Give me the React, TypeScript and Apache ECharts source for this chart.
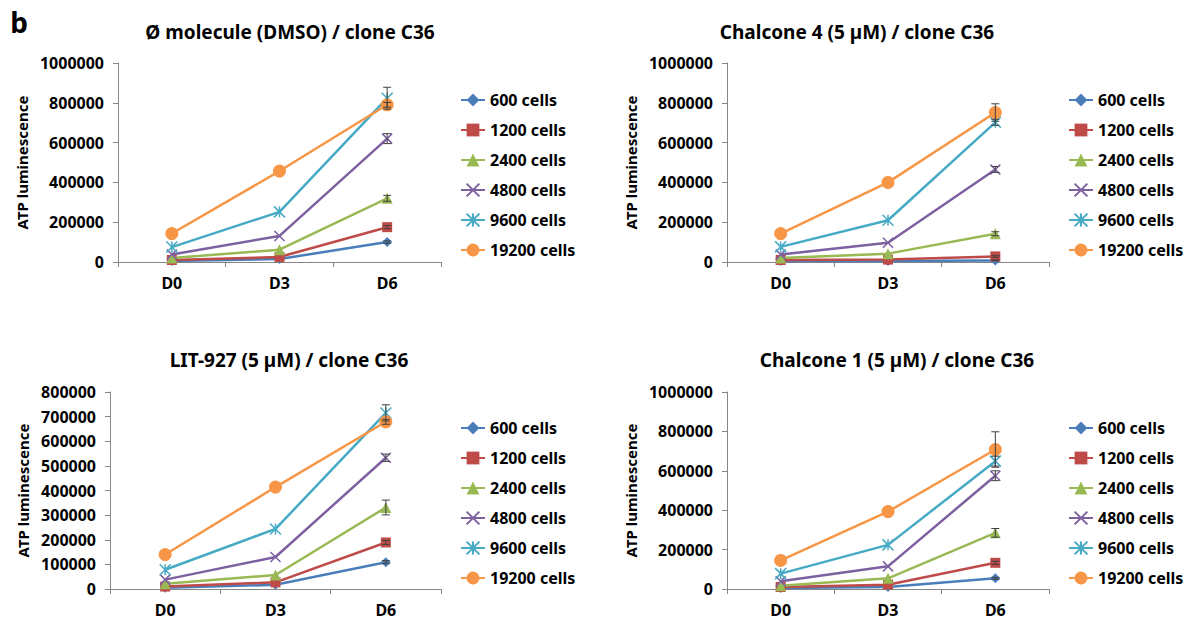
import { useEffect, useRef } from "react";
import * as echarts from "echarts";

const days = ["D0", "D3", "D6"];
const seriesNames = ["600 cells", "1200 cells", "2400 cells", "4800 cells", "9600 cells", "19200 cells"];
const lineColors = ["#4A7EBB", "#BE4B48", "#98B954", "#7D60A0", "#46AAC5", "#F79646"];

const panelTitles = [
  "Ø molecule (DMSO) / clone C36",
  "Chalcone 4 (5 µM) / clone C36",
  "LIT-927 (5 µM) / clone C36",
  "Chalcone 1 (5 µM) / clone C36",
];
const yMax = [1000000, 1000000, 800000, 1000000];
const yStep = [200000, 200000, 100000, 200000];

// values per series [D0, D3, D6]
const dmsoValues = [
  [5000, 15000, 100000],
  [10000, 25000, 175000],
  [20000, 62000, 320000],
  [38000, 131000, 620000],
  [75000, 252000, 823000],
  [143000, 457000, 790000],
];
const dmsoErrors = [
  [0, 0, 6000],
  [0, 0, 8000],
  [0, 0, 15000],
  [0, 0, 25000],
  [0, 0, 55000],
  [0, 0, 12000],
];
const chalcone4Values = [
  [5000, 5000, 8000],
  [10000, 12000, 28000],
  [20000, 42000, 142000],
  [38000, 97000, 465000],
  [76000, 210000, 702000],
  [143000, 400000, 751000],
];
const chalcone4Errors = [
  [0, 0, 2000],
  [0, 0, 4000],
  [0, 0, 10000],
  [0, 0, 15000],
  [0, 0, 15000],
  [0, 0, 44000],
];
const lit927Values = [
  [5000, 17000, 109000],
  [10000, 27000, 189000],
  [21000, 57000, 331000],
  [38000, 130000, 533000],
  [78000, 244000, 715000],
  [140000, 414000, 679000],
];
const lit927Errors = [
  [0, 0, 6000],
  [0, 0, 8000],
  [0, 0, 30000],
  [0, 0, 15000],
  [0, 0, 33000],
  [0, 0, 10000],
];
const chalcone1Values = [
  [5000, 10000, 54000],
  [10000, 22000, 133000],
  [17000, 54000, 285000],
  [39000, 115000, 575000],
  [78000, 224000, 649000],
  [145000, 393000, 708000],
];
const chalcone1Errors = [
  [0, 0, 5000],
  [0, 0, 8000],
  [0, 0, 22000],
  [0, 0, 25000],
  [0, 0, 25000],
  [0, 0, 90000],
];

const panelValues = [dmsoValues, chalcone4Values, lit927Values, chalcone1Values];
const panelErrors = [dmsoErrors, chalcone4Errors, lit927Errors, chalcone1Errors];

const FONT = "Noto Sans";
const symbols = [
  "diamond",
  "rect",
  "triangle",
  "path://M0,0L10,10M10,0L0,10",
  "path://M0,0L10,10M10,0L0,10M5,0L5,10",
  "circle",
];
const symbolSizes = [10, 10, 11, 10, 11, 13];

const grids = [
  { left: 118, top: 63, width: 323, height: 199 },
  { left: 727, top: 63, width: 322, height: 199 },
  { left: 110, top: 392, width: 331, height: 197 },
  { left: 727, top: 392, width: 322, height: 197 },
];
const titlePos = [
  [290, 32],
  [857, 32],
  [289, 360],
  [897, 360],
];
const legendPos = [
  [460, 92],
  [1068, 92],
  [460, 420],
  [1068, 420],
];

export default function App() {
  const ref = useRef<HTMLDivElement>(null);
  useEffect(() => {
    if (!ref.current) return;
    const chart = echarts.init(ref.current, undefined, { renderer: "svg" });
    const xAxis: any[] = [];
    const yAxis: any[] = [];
    const series: any[] = [];
    const legend: any[] = [];
    const graphic: any[] = [];
    grids.forEach((g, p) => {
      xAxis.push({
        type: "category",
        gridIndex: p,
        data: days,
        boundaryGap: true,
        axisLine: { lineStyle: { color: "#868686", width: 1 } },
        axisTick: { show: true, length: 5, lineStyle: { color: "#868686" } },
        axisLabel: { color: "#000", fontFamily: FONT, fontWeight: "bold", fontSize: 16, margin: 13 },
        splitLine: { show: false },
      });
      yAxis.push({
        type: "value",
        gridIndex: p,
        min: 0,
        max: yMax[p],
        interval: yStep[p],
        name: "ATP luminescence",
        nameLocation: "middle",
        nameRotate: 90,
        nameGap: p === 2 ? 80 : 89,
        nameTextStyle: { color: "#000", fontFamily: FONT, fontWeight: "bold", fontSize: 15 },
        axisLine: { show: true, lineStyle: { color: "#868686", width: 1 } },
        axisTick: { show: true, length: 5, lineStyle: { color: "#868686" } },
        axisLabel: {
          color: "#000",
          fontFamily: FONT,
          fontWeight: "bold",
          fontSize: 16,
          margin: 14,
          formatter: (v: number) => String(v),
        },
        splitLine: { show: false },
      });
      const vals = panelValues[p];
      const errs = panelErrors[p];
      seriesNames.forEach((name, s) => {
        series.push({
          type: "line",
          name,
          xAxisIndex: p,
          yAxisIndex: p,
          data: vals[s],
          symbol: symbols[s],
          symbolSize: symbolSizes[s],
          showAllSymbol: true,
          lineStyle: { color: lineColors[s], width: 2.5 },
          itemStyle: { color: lineColors[s], borderColor: lineColors[s], borderWidth: s === 3 || s === 4 ? 1.5 : 0 },
          z: 2 + s * 0.01,
        });
      });
      const errData: any[] = [];
      errs.forEach((row, s) =>
        row.forEach((e, d) => {
          if (e > 0) errData.push([d, vals[s][d], e]);
        })
      );
      series.push({
        type: "custom",
        name: "error",
        xAxisIndex: p,
        yAxisIndex: p,
        z: 3,
        data: errData,
        encode: { x: 0, y: 1 },
        renderItem: (params: any, api: any) => {
          const x = api.value(0);
          const y = api.value(1);
          const e = api.value(2);
          const top = api.coord([x, y + e]);
          const bot = api.coord([x, Math.max(0, y - e)]);
          const w = 4;
          const st = { stroke: "#404040", lineWidth: 1 };
          return {
            type: "group",
            children: [
              { type: "line", shape: { x1: top[0], y1: top[1], x2: bot[0], y2: bot[1] }, style: st },
              { type: "line", shape: { x1: top[0] - w, y1: top[1], x2: top[0] + w, y2: top[1] }, style: st },
              { type: "line", shape: { x1: bot[0] - w, y1: bot[1], x2: bot[0] + w, y2: bot[1] }, style: st },
            ],
          };
        },
      });
      legend.push({
        data: seriesNames,
        orient: "vertical",
        left: legendPos[p][0],
        top: legendPos[p][1],
        padding: 0,
        itemWidth: 24,
        itemHeight: 16,
        itemGap: 14,
        selectedMode: false,
        textStyle: { color: "#000", fontFamily: FONT, fontWeight: "bold", fontSize: 16 },
      });
      graphic.push({
        type: "text",
        x: titlePos[p][0],
        y: titlePos[p][1],
        style: {
          text: panelTitles[p],
          fill: "#000",
          font: `bold 19px "${FONT}"`,
          textAlign: "center",
          textVerticalAlign: "middle",
        },
      });
    });
    graphic.push({
      type: "text",
      x: 19,
      y: 22,
      style: { text: "b", fill: "#000", font: `bold 28px "${FONT}"`, textAlign: "center", textVerticalAlign: "middle" },
    });
    chart.setOption({
      animation: false,
      backgroundColor: "#fff",
      grid: grids,
      xAxis,
      yAxis,
      series,
      legend,
      graphic,
    });
    return () => chart.dispose();
  }, []);
  return <div ref={ref} style={{ position: "fixed", left: 0, top: 0, width: 1189, height: 623 }} />;
}
